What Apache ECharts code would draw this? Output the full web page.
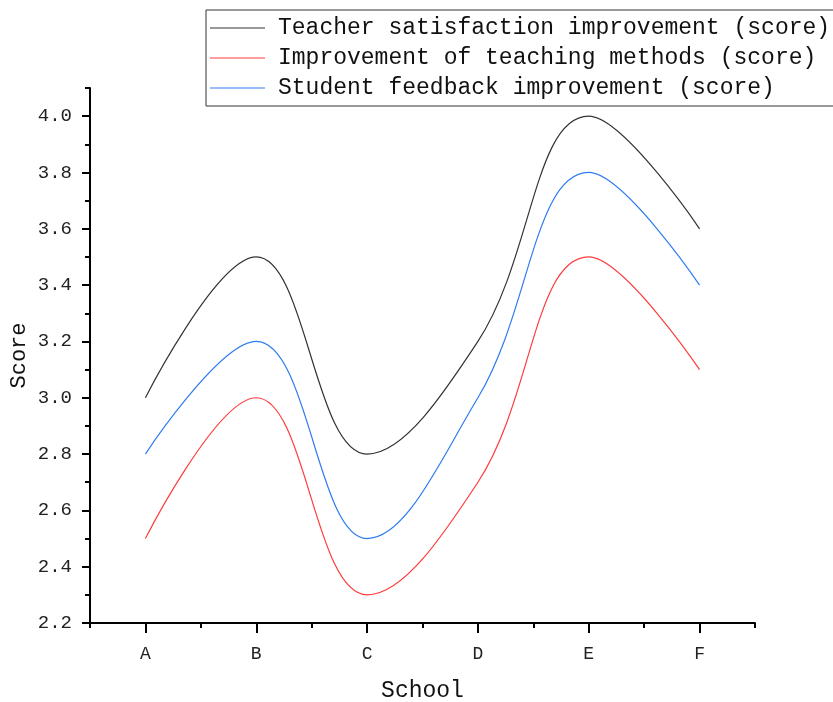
<!DOCTYPE html>
<html>
<head>
<meta charset="utf-8">
<script src="https://cdn.jsdelivr.net/npm/echarts@6/dist/echarts.min.js"></script>
<style>
html,body{margin:0;padding:0;background:#fff;}
#chart{width:833px;height:702px;}
</style>
</head>
<body>
<div id="chart"></div>
<script>
const schools = ['A', 'B', 'C', 'D', 'E', 'F'];
const teacherSatisfaction = [3.0, 3.5, 2.8, 3.2, 4.0, 3.6];
const teachingMethods = [2.5, 3.0, 2.3, 2.7, 3.5, 3.1];
const studentFeedback = [2.8, 3.2, 2.5, 3.0, 3.8, 3.4];
const seriesNames = [
  'Teacher satisfaction improvement (score)',
  'Improvement of teaching methods (score)',
  'Student feedback improvement (score)'
];
const yMajorTicks = [2.2, 2.4, 2.6, 2.8, 3.0, 3.2, 3.4, 3.6, 3.8, 4.0];
const yMinorTicks = [2.3, 2.5, 2.7, 2.9, 3.1, 3.3, 3.5, 3.7, 3.9, 4.1];

const FONT = '"Liberation Mono", "DejaVu Sans Mono", monospace';
const colors = ['#333333', '#ff3b3b', '#2f7cf0'];

const chart = echarts.init(document.getElementById('chart'), null, {renderer: 'canvas'});
chart.setOption({
  animation: false,
  backgroundColor: '#fff',
  color: colors,
  legend: {
    orient: 'vertical',
    left: 206,
    top: 10,
    padding: [6, 20, 6, 4],
    borderColor: '#333',
    borderWidth: 1,
    itemWidth: 55,
    itemHeight: 1,
    itemGap: 6,
    icon: 'rect',
    textStyle: {fontFamily: FONT, fontSize: 23, color: '#111', lineHeight: 24, padding: [0,0,0,8]},
    data: seriesNames
  },
  grid: {left: 90, right: 78, top: 88, bottom: 79, containLabel: false, outerBoundsMode: 'none'},
  xAxis: [{
    type: 'category',
    data: schools,
    boundaryGap: true,
    name: 'School',
    nameLocation: 'middle',
    nameGap: 56,
    nameTextStyle: {fontFamily: FONT, fontSize: 23, color: '#111'},
    axisLine: {show: true, lineStyle: {color: '#000', width: 2}},
    axisTick: {show: true, alignWithLabel: true, length: 10, lineStyle: {color: '#000', width: 2}},
    axisLabel: {fontFamily: FONT, fontSize: 18, color: '#222', margin: 22},
    splitLine: {show: false}
  }, {
    type: 'category',
    data: schools,
    position: 'bottom',
    boundaryGap: true,
    axisLine: {show: false},
    axisTick: {show: true, alignWithLabel: false, length: 5, lineStyle: {color: '#000', width: 2}},
    axisLabel: {show: false},
    splitLine: {show: false}
  }],
  yAxis: [{
    type: 'value',
    min: 2.2,
    max: 4.1,
    interval: 0.2,
    name: 'Score',
    nameLocation: 'middle',
    nameGap: 60,
    nameMoveOverlap: false,
    nameTextStyle: {fontFamily: FONT, fontSize: 22, color: '#111'},
    axisLine: {show: true, lineStyle: {color: '#000', width: 2}},
    axisTick: {show: true, length: 8, customValues: yMajorTicks, lineStyle: {color: '#000', width: 2}},
    axisLabel: {fontFamily: FONT, fontSize: 19, color: '#222', margin: 18, customValues: yMajorTicks,
      formatter: v => v.toFixed(1)},
    splitLine: {show: false}
  }, {
    type: 'value',
    min: 2.2,
    max: 4.1,
    position: 'left',
    axisLine: {show: false},
    axisTick: {show: true, length: 5, customValues: yMinorTicks, lineStyle: {color: '#000', width: 2}},
    axisLabel: {show: false},
    splitLine: {show: false}
  }],
  series: [
    {name: seriesNames[0], type: 'line', data: teacherSatisfaction, smooth: 0.4, symbol: 'none',
      lineStyle: {width: 1.2, color: colors[0]}},
    {name: seriesNames[1], type: 'line', data: teachingMethods, smooth: 0.4, symbol: 'none',
      lineStyle: {width: 1.2, color: colors[1]}},
    {name: seriesNames[2], type: 'line', data: studentFeedback, smooth: 0.4, symbol: 'none',
      lineStyle: {width: 1.2, color: colors[2]}}
  ]
});
</script>
</body>
</html>
